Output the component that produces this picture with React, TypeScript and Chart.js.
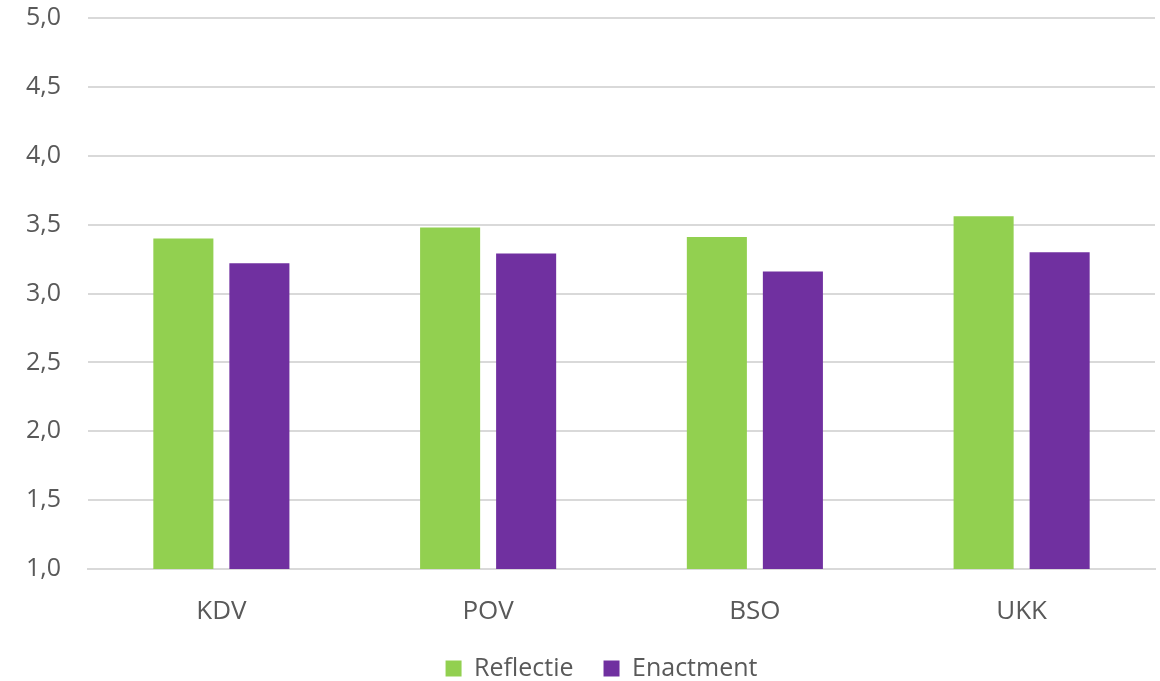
import React, { useEffect, useRef } from "react";
import { Chart, registerables } from "chart.js";

Chart.register(...registerables);

const categories = ["KDV", "POV", "BSO", "UKK"];
const reflectie = [3.4, 3.48, 3.41, 3.56];
const enactment = [3.22, 3.29, 3.16, 3.3];
const seriesNames = ["Reflectie", "Enactment"];

const legendShift = {
  id: "legendShift",
  afterLayout(chart: any) {
    if (chart.legend) {
      chart.legend.left += 24;
      chart.legend.right += 24;
    }
  },
};

export default function App() {
  const ref = useRef<HTMLCanvasElement | null>(null);
  useEffect(() => {
    if (!ref.current) return;
    const font = "'Open Sans', 'Noto Sans', sans-serif";
    const chart = new Chart(ref.current, {
      type: "bar",
      data: {
        labels: categories,
        datasets: [
          { label: seriesNames[0], data: reflectie, backgroundColor: "#92D050", categoryPercentage: 0.57, barPercentage: 0.79 },
          { label: seriesNames[1], data: enactment, backgroundColor: "#7030A0", categoryPercentage: 0.57, barPercentage: 0.79 },
        ],
      },
      plugins: [legendShift],
      options: {
        animation: false,
        responsive: false,
        maintainAspectRatio: false,
        layout: { padding: { top: 18, right: 5, left: 0, bottom: -10 } },
        plugins: {
          tooltip: { enabled: false },
          legend: {
            position: "bottom",
            labels: {
              font: { family: font, size: 25 },
              color: "#595959",
              boxWidth: 16,
              boxHeight: 16,
              padding: 30,
            },
          },
        },
        scales: {
          x: {
            grid: { display: false, drawTicks: false },
            border: { display: true, color: "#d9d9d9", width: 2 },
            ticks: { font: { family: font, size: 26 }, color: "#595959", padding: 27 },
            afterFit: (s: any) => { s.height = 57; s.paddingLeft = 0; s.paddingRight = 0; },
          },
          y: {
            min: 1,
            max: 5,
            grid: { color: "#d9d9d9", lineWidth: 2, drawTicks: false },
            border: { display: false },
            ticks: {
              stepSize: 0.5,
              font: { family: font, size: 25 },
              color: "#595959",
              padding: 27,
              callback: (v: any) => Number(v).toFixed(1).replace(".", ","),
            },
            afterFit: (s: any) => { s.width = 88; s.paddingTop = 0; s.paddingBottom = 0; },
          },
        },
      },
    });
    return () => chart.destroy();
  }, []);
  return (
    <div style={{ position: "fixed", left: 0, top: 0, width: 1160, height: 681, background: "#fff" }}>
      <canvas ref={ref} width={1160} height={681} />
    </div>
  );
}
